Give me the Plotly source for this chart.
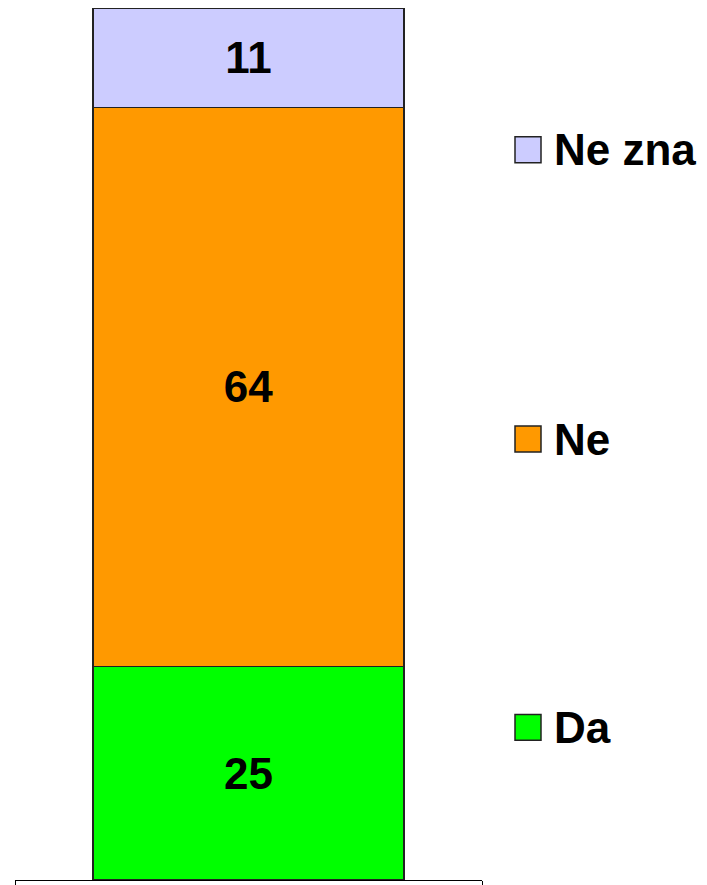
import plotly.graph_objects as go

categories = [""]
series_names = ["Da", "Ne", "Ne zna"]
series_values = [[24.5], [64.1], [11.4]]
series_colors = ["#00FF00", "#FF9900", "#CCCCFF"]

OFF = 8  # page body margin
W, H = 707 - OFF, 885 - OFF
L, R, T, B = 15 - OFF, 707 - 482, 0, 3
plot_w = W - L - R
plot_h = H - T - B

def px_x(x):
    return (x - OFF - L) / plot_w

def px_y(y):
    return (H - B - (y - OFF)) / plot_h

fig = go.Figure()
for name, vals, col in zip(series_names, series_values, series_colors):
    fig.add_trace(go.Bar(
        x=categories, y=vals, name=name,
        marker=dict(color=col, line=dict(color="#222222", width=1.5)),
        texttemplate="%{y:.0f}", textposition="inside",
        insidetextanchor="middle",
        textfont=dict(family="Arial, Liberation Sans", size=44, color="black", weight="bold"),
        showlegend=False, width=0.666,
    ))

# legend drawn manually (large squares)
legend_y = {"Ne zna": 150, "Ne": 440, "Da": 729}
for name, col in zip(series_names, series_colors):
    yc = legend_y[name]
    fig.add_shape(type="rect", xref="paper", yref="paper",
                  x0=px_x(515), x1=px_x(541), y0=px_y(yc + 13), y1=px_y(yc - 13),
                  fillcolor=col, line=dict(color="#222222", width=1.5))
    fig.add_annotation(xref="paper", yref="paper", x=px_x(552), y=px_y(yc),
                       text=name, showarrow=False, xanchor="left", yanchor="middle",
                       font=dict(family="Arial, Liberation Sans", size=44, color="black", weight="bold"))

fig.update_layout(
    barmode="stack", width=W, height=H,
    margin=dict(l=L, r=R, t=T, b=B),
    paper_bgcolor="white", plot_bgcolor="white",
    xaxis=dict(range=[-0.5, 0.5], showline=True, linecolor="black", linewidth=1,
               ticks="outside", tickson="boundaries", ticklen=5, tickcolor="black",
               showticklabels=False, showgrid=False, zeroline=False, fixedrange=True),
    yaxis=dict(range=[0, 100], visible=False, showgrid=False, zeroline=False),
    uniformtext=dict(mode=False),
)

fig.write_html("out.html")
